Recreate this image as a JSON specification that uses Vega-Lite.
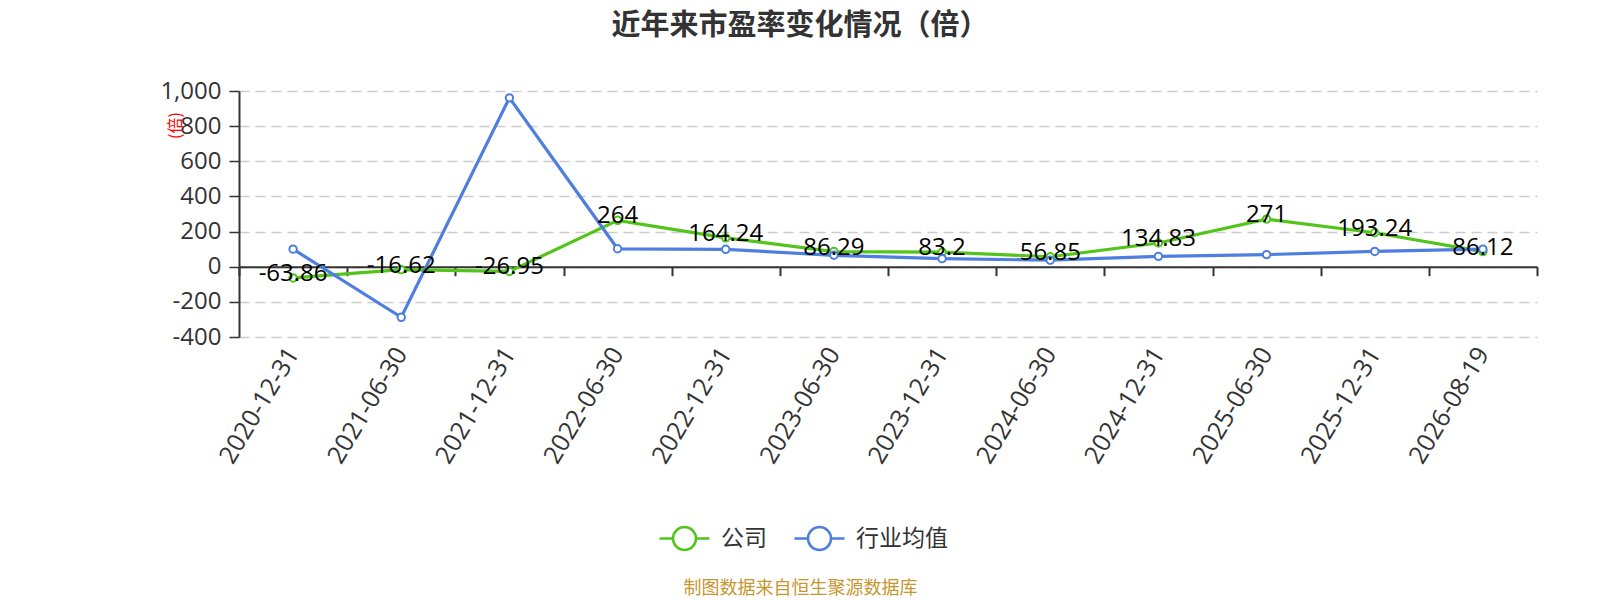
{
  "$schema": "https://vega.github.io/schema/vega-lite/v6.json",
  "autosize": {"type": "none"},
  "width": 1298,
  "height": 246,
  "padding": {"left": 239, "top": 91, "right": 63, "bottom": 263},
  "background": "white",
  "config": {
    "view": {"stroke": null},
    "font": "Open Sans",
    "locale": {"number": {"decimal": ".", "thousands": ",", "grouping": [3], "currency": ["$", ""], "minus": "-"}}
  },
  "title": {
    "text": "近年来市盈率变化情况（倍）",
    "font": "Noto Sans CJK SC",
    "fontSize": 29,
    "fontWeight": "bold",
    "color": "#333333",
    "anchor": "middle",
    "frame": "group",
    "dx": -88,
    "offset": 38
  },
  "data": {
    "values": [
      {"date": "2020-12-31", "series": "公司", "value": -63.86},
      {"date": "2021-06-30", "series": "公司", "value": -16.62},
      {"date": "2021-12-31", "series": "公司", "value": -26.95},
      {"date": "2022-06-30", "series": "公司", "value": 264},
      {"date": "2022-12-31", "series": "公司", "value": 164.24},
      {"date": "2023-06-30", "series": "公司", "value": 86.29},
      {"date": "2023-12-31", "series": "公司", "value": 83.2},
      {"date": "2024-06-30", "series": "公司", "value": 56.85},
      {"date": "2024-12-31", "series": "公司", "value": 134.83},
      {"date": "2025-06-30", "series": "公司", "value": 271},
      {"date": "2025-12-31", "series": "公司", "value": 193.24},
      {"date": "2026-08-19", "series": "公司", "value": 86.12},
      {"date": "2020-12-31", "series": "行业均值", "value": 100},
      {"date": "2021-06-30", "series": "行业均值", "value": -288},
      {"date": "2021-12-31", "series": "行业均值", "value": 961},
      {"date": "2022-06-30", "series": "行业均值", "value": 102},
      {"date": "2022-12-31", "series": "行业均值", "value": 99},
      {"date": "2023-06-30", "series": "行业均值", "value": 65},
      {"date": "2023-12-31", "series": "行业均值", "value": 46},
      {"date": "2024-06-30", "series": "行业均值", "value": 37},
      {"date": "2024-12-31", "series": "行业均值", "value": 59},
      {"date": "2025-06-30", "series": "行业均值", "value": 69},
      {"date": "2025-12-31", "series": "行业均值", "value": 87},
      {"date": "2026-08-19", "series": "行业均值", "value": 100}
    ]
  },
  "resolve": {"axis": {"x": "independent"}},
  "encoding": {
    "y": {
      "field": "value", "type": "quantitative",
      "scale": {"domain": [-400, 1000], "nice": false, "zero": false},
      "axis": {
        "values": [-400, -200, 0, 200, 400, 600, 800, 1000], "format": ",d", "labelOverlap": false,
        "labelFontSize": 24, "labelColor": "#333333", "labelFont": "Open Sans", "labelPadding": 8,
        "domain": true, "domainColor": "#333333", "domainWidth": 2,
        "ticks": true, "tickSize": 10, "tickColor": "#333333", "tickWidth": 1.5,
        "grid": true, "gridColor": "#cccccc", "gridDash": [10, 6], "gridWidth": 1.5,
        "title": "(倍)", "titleColor": "#ff0000", "titleFontSize": 16, "titleFont": "Noto Sans CJK SC", "titleFontWeight": "normal",
        "titleX": -64, "titleY": 34, "titleAlign": "center", "titleBaseline": "middle", "titleAngle": -90
      }
    }
  },
  "layer": [
    {
      "mark": {"type": "line", "strokeWidth": 3.2},
      "encoding": {
        "x": {
          "field": "date", "type": "nominal", "sort": null, "bandPosition": 0.5,
          "scale": {"type": "band", "paddingInner": 0, "paddingOuter": 0},
          "axis": {
            "orient": "bottom", "domain": false, "ticks": false, "grid": false,
            "labelAngle": -59, "labelFontSize": 25, "labelColor": "#333333", "labelFont": "Open Sans", "labelPadding": 12,
            "title": "制图数据来自恒生聚源数据库", "titleFont": "Noto Sans CJK SC", "titleFontSize": 18, "titleFontWeight": "normal",
            "titleColor": "#C8962E", "titleX": 561, "titleY": 251, "titleAlign": "center", "titleBaseline": "middle", "titleAngle": 0
          }
        },
        "color": {
          "field": "series", "type": "nominal",
          "scale": {"domain": ["公司", "行业均值"], "range": ["#52C41A", "#4E7FE0"]},
          "legend": {
            "orient": "none", "legendX": 419, "legendY": 421, "direction": "horizontal", "title": null,
            "symbolType": "M-1,0L-0.46,0M0.46,0L1,0M-0.46,0A0.46,0.46 0 1,1 0.46,0A0.46,0.46 0 1,1 -0.46,0Z",
            "symbolSize": 2500, "symbolStrokeWidth": 2.5,
            "labelFontSize": 23, "labelFont": "Noto Sans CJK SC", "labelColor": "#333333", "labelOffset": 10,
            "columnPadding": 22, "padding": 0,
            "encode": {"symbols": {"update": {"fill": {"value": "white"}, "strokeWidth": {"value": 2.5}, "opacity": {"value": 1}}}}
          }
        }
      }
    },
    {
      "mark": {"type": "point", "filled": false, "fill": "white", "fillOpacity": 1, "opacity": 1, "strokeWidth": 2, "size": 55},
      "encoding": {
        "x": {"field": "date", "type": "nominal", "sort": null, "bandPosition": 0.5, "scale": {"type": "band", "paddingInner": 0, "paddingOuter": 0}, "axis": null},
        "color": {"field": "series", "type": "nominal", "scale": {"domain": ["公司", "行业均值"], "range": ["#52C41A", "#4E7FE0"]}}
      }
    },
    {
      "transform": [{"filter": "datum.series === '公司'"}],
      "mark": {"type": "text", "fontSize": 24, "font": "Open Sans", "color": "#000000", "baseline": "middle", "dy": -4},
      "encoding": {
        "x": {
          "field": "date", "type": "nominal", "sort": null, "bandPosition": 0.5,
          "scale": {"type": "band", "paddingInner": 0, "paddingOuter": 0},
          "axis": {
            "orient": "bottom", "offset": -70.3, "domain": true, "domainColor": "#333333", "domainWidth": 2,
            "ticks": true, "tickBand": "extent", "tickSize": 9, "tickColor": "#333333", "tickWidth": 2,
            "labels": false, "grid": false, "title": null
          }
        },
        "text": {"field": "value", "type": "quantitative"}
      }
    }
  ]
}
